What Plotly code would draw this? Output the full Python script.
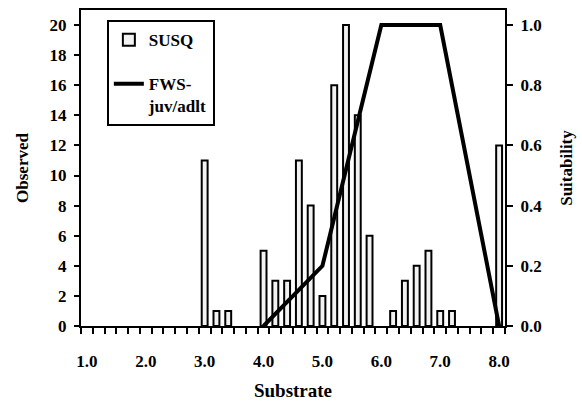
import plotly.graph_objects as go

# Substrate classes (category centres) and observed counts
substrate = [1.0, 1.2, 1.4, 1.6, 1.8, 2.0, 2.2, 2.4, 2.6, 2.8,
             3.0, 3.2, 3.4, 3.6, 3.8, 4.0, 4.2, 4.4, 4.6, 4.8,
             5.0, 5.2, 5.4, 5.6, 5.8, 6.0, 6.2, 6.4, 6.6, 6.8,
             7.0, 7.2, 7.4, 7.6, 7.8, 8.0]
observed = [0, 0, 0, 0, 0, 0, 0, 0, 0, 0,
            11, 1, 1, 0, 0, 5, 3, 3, 11, 8,
            2, 16, 20, 14, 6, 0, 1, 3, 4, 5,
            1, 1, 0, 0, 0, 12]

# Habitat suitability curve
suit_x = [4.0, 5.0, 6.0, 7.0, 8.0]
suit_y = [0.0, 0.2, 1.0, 1.0, 0.0]

x_labels = [1.0, 2.0, 3.0, 4.0, 5.0, 6.0, 7.0, 8.0]
obs_ticks = list(range(0, 21, 2))
suit_ticks = [0.0, 0.2, 0.4, 0.6, 0.8, 1.0]

FONT = dict(family="Liberation Serif", size=17, color="black", weight="bold")

# empty classes get no bar outline drawn on the axis
bar_y = [v if v > 0 else None for v in observed]

fig = go.Figure()
fig.add_trace(go.Bar(
    x=substrate, y=bar_y, name="SUSQ", width=0.1,
    marker=dict(color="#f2f2f2", line=dict(color="black", width=2)),
    legendgroup="a",
))
fig.add_trace(go.Scatter(
    x=suit_x, y=suit_y, name="FWS-<br>juv/adlt", mode="lines",
    line=dict(color="black", width=4), yaxis="y2",
    legendgroup="b",
))

fig.update_layout(
    width=582, height=401,
    margin=dict(l=81, r=77, t=10, b=75),
    paper_bgcolor="white", plot_bgcolor="white",
    font=FONT,
    showlegend=True,
    legend=dict(
        x=0.061, y=0.968, xanchor="left", yanchor="top",
        bordercolor="black", borderwidth=2, bgcolor="white",
        font=dict(family="Liberation Serif", size=17, color="black", weight="bold"),
        tracegroupgap=19, valign="top", traceorder="grouped",
        itemwidth=30,
    ),
    xaxis=dict(
        range=[0.9, 8.1], tickmode="array", tickvals=x_labels,
        ticktext=[f"{v:.1f}" for v in x_labels],
        ticks="", ticklabelstandoff=19, automargin=False,
        showline=True, linecolor="black", linewidth=2, mirror=True,
        showgrid=False, zeroline=False,
        minor=dict(ticks="outside", tick0=0.9, dtick=0.2, ticklen=6,
                   tickwidth=2, tickcolor="black", showgrid=False),
        title=dict(text="Substrate", font=dict(size=19), standoff=20),
    ),
    yaxis=dict(
        range=[0, 21], tickmode="array", tickvals=obs_ticks,
        ticks="outside", ticklen=5, tickwidth=2, tickcolor="black",
        ticklabelstandoff=4, automargin=False,
        showline=True, linecolor="black", linewidth=2,
        showgrid=False, zeroline=False,
        title=dict(text="Observed", font=dict(size=17), standoff=17),
    ),
    yaxis2=dict(
        range=[0, 1.05], overlaying="y", side="right",
        tickmode="array", tickvals=suit_ticks,
        ticktext=[f"{v:.1f}" for v in suit_ticks],
        ticks="outside", ticklen=6, tickwidth=2, tickcolor="black",
        ticklabelstandoff=4, automargin=False,
        showline=True, linecolor="black", linewidth=2,
        showgrid=False, zeroline=False,
        title=dict(text="Suitability", font=dict(size=17), standoff=19),
    ),
)

fig.write_html("out.html")
